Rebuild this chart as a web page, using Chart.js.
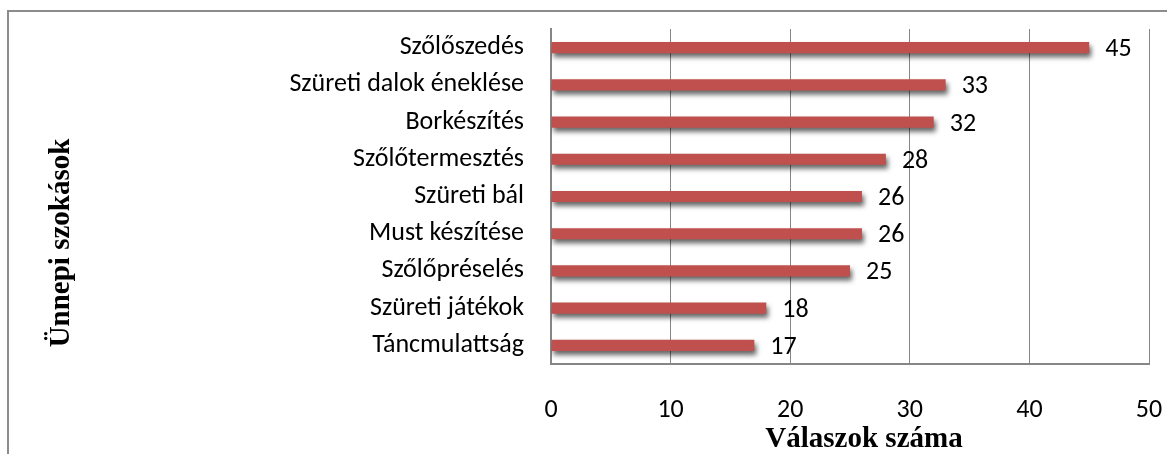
<!DOCTYPE html>
<html lang="hu">
<head>
  <meta charset="UTF-8">
  <title>Ünnepi szokások</title>
  <script src="https://cdn.jsdelivr.net/npm/chart.js"></script>
  <style>
    body { margin: 0; background: #fff; }
    canvas { display: block; }
  </style>
</head>
<body>

  <canvas id="chart" width="1167" height="454"></canvas>

  <script>
    const categories = ['Szőlőszedés', 'Szüreti dalok éneklése', 'Borkészítés', 'Szőlőtermesztés',
      'Szüreti bál', 'Must készítése', 'Szőlőpréselés', 'Szüreti játékok', 'Táncmulattság'];
    const values = [45, 33, 32, 28, 26, 26, 25, 18, 17];
    const xMin = 0, xMax = 50, xStep = 10;
    const xTitle = 'Válaszok száma';
    const yTitle = 'Ünnepi szokások';

    const sansFamily = 'Carlito, Lato, sans-serif';
    const labelFont = '26px ' + sansFamily;
    const titleFont = 'bold 29px "Liberation Serif", "Times New Roman", serif';

    // frame, bar shadows, value labels and axis titles
    const extras = {
      id: 'extras',
      beforeDraw(chart) {
        const ctx = chart.ctx;
        ctx.save();
        ctx.strokeStyle = '#8c8c8c';
        ctx.lineWidth = 2;
        ctx.strokeRect(8, 11, 2000, 2000);
        ctx.restore();
      },
      beforeDatasetsDraw(chart) {
        const ctx = chart.ctx;
        ctx.save();
        ctx.shadowColor = 'rgba(0,0,0,0.6)';
        ctx.shadowBlur = 5;
        ctx.shadowOffsetX = 2;
        ctx.shadowOffsetY = 4;
      },
      afterDatasetsDraw(chart) {
        const ctx = chart.ctx;
        ctx.restore();
        ctx.save();
        ctx.font = labelFont;
        ctx.fillStyle = '#000';
        ctx.textBaseline = 'middle';
        ctx.textAlign = 'left';
        chart.getDatasetMeta(0).data.forEach((bar, i) => {
          ctx.fillText(values[i], bar.x + 16, bar.y + 2);
        });

        ctx.font = titleFont;
        ctx.textAlign = 'center';
        ctx.fillText(xTitle, 864, 440);
        ctx.translate(62, 243);
        ctx.rotate(-Math.PI / 2);
        ctx.fillText(yTitle, 0, 0);
        ctx.restore();
      }
    };

    new Chart(document.getElementById('chart'), {
      type: 'bar',
      data: {
        labels: categories,
        datasets: [{
          data: values,
          backgroundColor: '#C0504D',
          borderWidth: 0,
          categoryPercentage: 1,
          barPercentage: 0.3
        }]
      },
      options: {
        indexAxis: 'y',
        responsive: false,
        animation: false,
        layout: { padding: { top: 29, right: 18, left: 0, bottom: 0 } },
        plugins: { legend: { display: false }, tooltip: { enabled: false } },
        scales: {
          x: {
            min: xMin,
            max: xMax,
            ticks: { stepSize: xStep, padding: 0, color: '#000', font: { family: sansFamily, size: 26 } },
            grid: { color: '#868686', lineWidth: 1, drawTicks: true, tickLength: 31, tickColor: 'transparent' },
            border: { color: '#868686', width: 2 },
            afterFit(scale) { scale.height = 90; }
          },
          y: {
            ticks: { padding: 0, color: '#000', font: { family: sansFamily, size: 26 } },
            grid: { drawOnChartArea: false, drawTicks: true, tickLength: 27, tickColor: 'transparent' },
            border: { color: '#868686', width: 2 },
            afterFit(scale) { scale.width = 551; }
          }
        }
      },
      plugins: [extras]
    });
  </script>

</body>
</html>
